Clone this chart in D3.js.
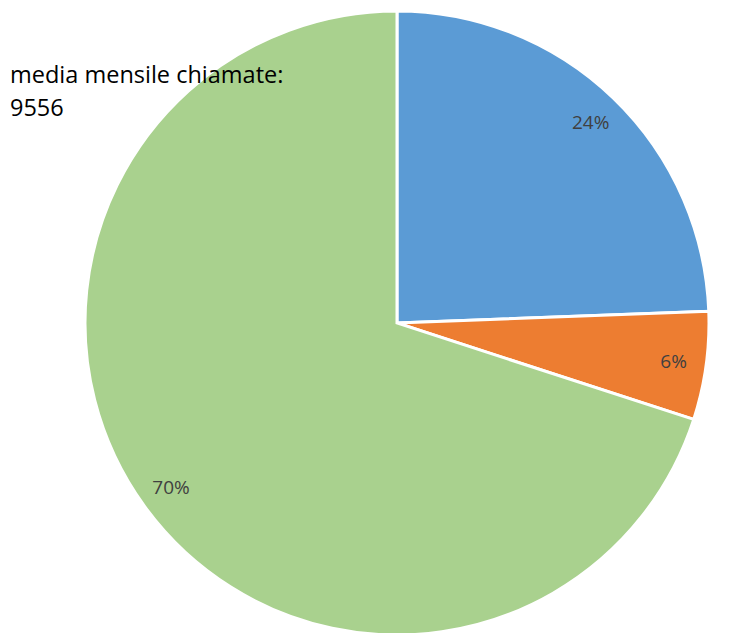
<!DOCTYPE html>
<html>
<head>
<meta charset="utf-8">
<script src="https://cdn.jsdelivr.net/npm/d3@7"></script>
<style>
  html, body { margin: 0; padding: 0; background: #fff; }
  svg { display: block; }
</style>
</head>
<body>
<svg id="chart" width="744" height="633"></svg>
<script>
// Share of monthly calls by category (fractions of the total)
const categories = ["A", "B", "C"];
const shares = [0.244, 0.056, 0.700];
const colors = ["#5b9bd5", "#ed7d31", "#a9d18e"];
const titleLines = ["media mensile chiamate:", "9556"];

const svg = d3.select("#chart");
const cx = 397, cy = 323, radius = 312;
const pct = d3.format(".0%");

const pie = d3.pie().sort(null).value(d => d.value);
const arcs = pie(categories.map((c, i) => ({ name: c, value: shares[i], color: colors[i] })));

const arc = d3.arc().innerRadius(0).outerRadius(radius);
const labelArc = d3.arc().innerRadius(radius * 0.895).outerRadius(radius * 0.895);

const g = svg.append("g").attr("transform", `translate(${cx},${cy})`);

g.selectAll("path.slice")
  .data(arcs)
  .join("path")
  .attr("class", "slice")
  .attr("d", arc)
  .attr("fill", d => d.data.color)
  .attr("stroke", "#fff")
  .attr("stroke-width", 3)
  .attr("stroke-linejoin", "miter");

g.selectAll("text.pct")
  .data(arcs)
  .join("text")
  .attr("class", "pct")
  .attr("transform", d => `translate(${labelArc.centroid(d)})`)
  .attr("text-anchor", "middle")
  .attr("dy", "0.35em")
  .attr("font-family", "'Open Sans', sans-serif")
  .attr("font-size", 19)
  .attr("fill", "#404040")
  .text(d => pct(d.data.value));

svg.append("g")
  .selectAll("text")
  .data(titleLines)
  .join("text")
  .attr("x", 10)
  .attr("y", (d, i) => 83 + i * 33)
  .attr("font-family", "'Open Sans', sans-serif")
  .attr("font-size", 23.5)
  .attr("fill", "#000")
  .text(d => d);
</script>
</body>
</html>
